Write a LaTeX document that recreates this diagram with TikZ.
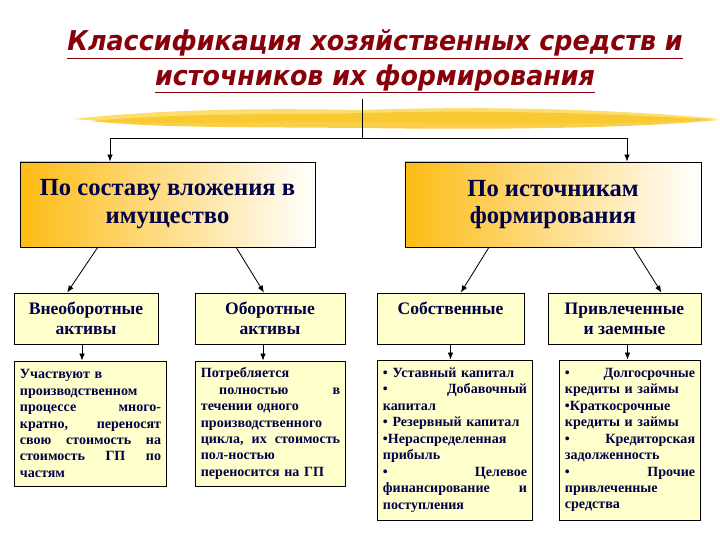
\documentclass[tikz,border=0pt]{standalone}
\usepackage{fontspec}
\setmainfont{Liberation Serif}
\newfontfamily\titlefont[FakeStretch=0.93]{DejaVu Sans}
\usetikzlibrary{arrows.meta,calc}

\definecolor{inkblue}{RGB}{0,0,70}
\definecolor{titlered}{RGB}{135,0,10}
\definecolor{paleyel}{RGB}{255,255,204}
\definecolor{gold}{RGB}{253,188,20}
\definecolor{cream}{RGB}{251,226,150}
\definecolor{brushyel}{RGB}{249,198,40}
\definecolor{brushlt}{RGB}{252,222,110}

\begin{document}
\begin{tikzpicture}[x=0.025cm,y=-0.025cm,>={Latex[length=5pt,width=4pt]},
  every node/.style={text=inkblue},
  bigbox/.style={draw,line width=0.6pt,left color=gold,middle color=cream,right color=white,
    minimum height=2.125cm,align=center,font=\fontsize{17.5}{19.8}\selectfont\bfseries},
  midbox/.style={draw,line width=0.6pt,fill=paleyel,minimum height=1.275cm,align=center,
    font=\fontsize{12.5}{14.2}\selectfont\bfseries},
  notebox/.style={draw,line width=0.6pt,fill=paleyel,inner xsep=4pt,align=left,
    font=\fontsize{10}{11.7}\selectfont\bfseries},
  heading/.style={text=titlered,font=\titlefont\bfseries\itshape\fontsize{19.4}{23}\selectfont},
  link/.style={->,line width=0.6pt}]
  \useasboundingbox (0,0) rectangle (720,540);

  % brush stroke under the title
  \fill[brushlt] (73,119) .. controls (180,107) and (300,109) .. (362,110)
    .. controls (500,105) and (640,111) .. (720,119)
    .. controls (640,124) and (500,124) .. (362,122)
    .. controls (250,122) and (150,125) .. (73,119) -- cycle;
  \fill[brushyel,opacity=0.85] (90,121) .. controls (200,112) and (300,115) .. (362,113)
    .. controls (500,109) and (640,115) .. (718,120)
    .. controls (640,128) and (500,130) .. (362,128)
    .. controls (250,127) and (150,128) .. (90,121) -- cycle;

  \node[heading] (t1) at (375,44) {\underline{Классификация хозяйственных средств и}};
  \node[heading] (t2) at (375,79) {\underline{источников их формирования}};

  \node[bigbox,minimum width=7.375cm] (sv) at (167.5,204.5) {По составу вложения в\\имущество};
  \node[bigbox,minimum width=7.4cm] (si) at (553,204.5) {По источникам\\формирования};

  \node[midbox,minimum width=3.6cm] (vna) at (86,318.5) {Внеоборотные\\активы};
  \node[midbox,minimum width=3.75cm] (oa) at (270,318.5) {Оборотные\\активы};
  \node[midbox,minimum width=3.675cm] (sob) at (450.5,318.5) {Собственные\\~};
  \node[midbox,minimum width=3.825cm] (pz) at (624.5,318.5) {Привлеченные\\и заемные};

  \node[notebox,text width=100.4pt,minimum height=3.125cm] (dvna) at (90.5,423.5)
    {Участвуют в\\производственном\\процессе\hfill много-\\кратно,\hfill переносят\\
     свою\hfill стоимость\hfill на\\стоимость\hfill ГП\hfill по\\частям};
  \node[notebox,text width=99pt,minimum height=3.125cm] (doa) at (270.5,423.5)
    {Потребляется\\\hspace*{1.3em}полностью\hfill в\\течении одного\\производственного\\
     цикла,\hfill их\hfill стоимость\\пол-ностью\\переносится на ГП};
  \node[notebox,text width=102.5pt,minimum height=4cm] (dsob) at (455,440)
    {• Уставный капитал\\•\hfill Добавочный\\капитал\\• Резервный капитал\\
     •Нераспределенная\\прибыль\\•\hfill Целевое\\финансирование\hfill и\\поступления};
  \node[notebox,text width=92.6pt,minimum height=4cm] (dpz) at (630,440)
    {•\hfill Долгосрочные\\кредиты и займы\\•Краткосрочные\\кредиты и займы\\
     •\hfill Кредиторская\\задолженность\\•\hfill Прочие\\привлеченные\\средства};

  % title to the two groups
  \coordinate (tj) at (362,138);
  \coordinate (tl) at (110,138);
  \coordinate (tr) at (627,138);
  \draw[line width=0.6pt] (tj |- t2.south) -- (tj);
  \draw[line width=0.6pt] (tl) -- (tr);
  \draw[link] (tl) -- (tl |- sv.north);
  \draw[link] (tr) -- (tr |- si.north);

  % groups to kinds
  \draw[link] ($(sv.south west)!0.264!(sv.south east)$) -- ($(vna.north west)!0.37!(vna.north east)$);
  \draw[link] ($(sv.south west)!0.732!(sv.south east)$) -- ($(oa.north west)!0.46!(oa.north east)$);
  \draw[link] ($(si.south west)!0.284!(si.south east)$) -- ($(sob.north west)!0.57!(sob.north east)$);
  \draw[link] ($(si.south west)!0.77!(si.south east)$) -- ($(pz.north west)!0.74!(pz.north east)$);

  % kinds to notes
  \coordinate (ka) at ($(vna.south)+(-4,0)$);
  \coordinate (kb) at ($(oa.south)+(-7,0)$);
  \coordinate (kc) at (sob.south);
  \coordinate (kd) at ($(pz.south)+(3,0)$);
  \draw[link] (ka) -- (ka |- dvna.north);
  \draw[link] (kb) -- (kb |- doa.north);
  \draw[link] (kc) -- (kc |- dsob.north);
  \draw[link] (kd) -- (kd |- dpz.north);
\end{tikzpicture}
\end{document}
